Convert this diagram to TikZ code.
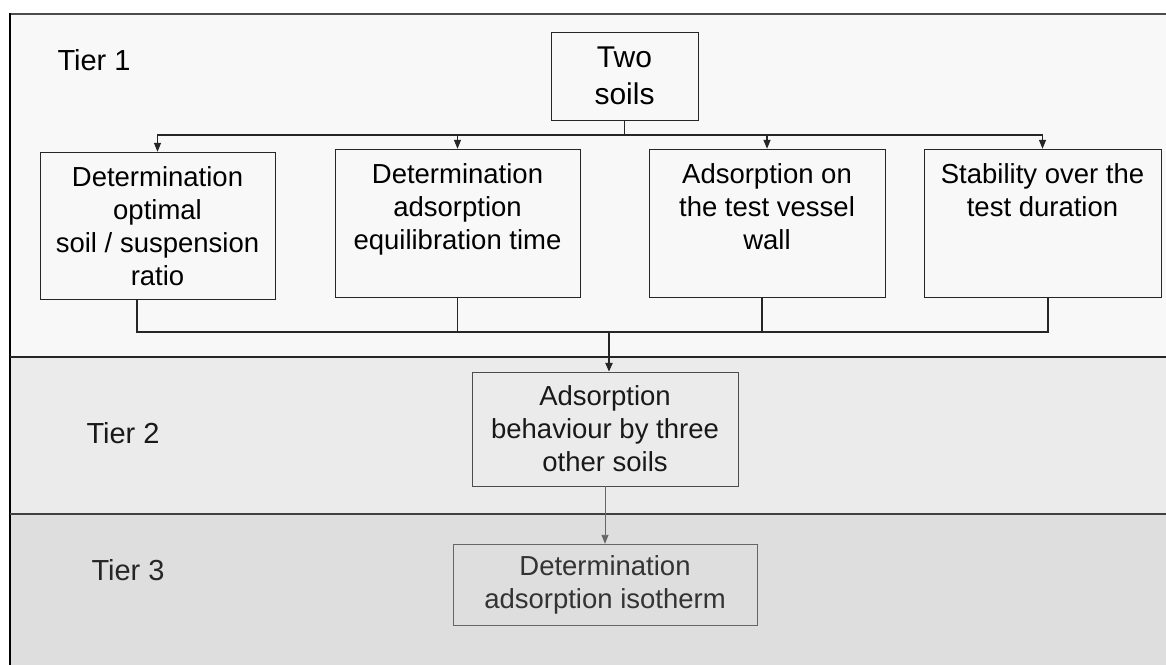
\documentclass[tikz,border=0pt]{standalone}
\usepackage{fontspec}
\setmainfont{Liberation Sans}
\usepackage{xcolor}
\usetikzlibrary{arrows.meta, positioning, calc}

\definecolor{tierone}{HTML}{F8F8F8}
\definecolor{tiertwo}{HTML}{EBEBEB}
\definecolor{tierthree}{HTML}{DEDEDE}

% text hung from the top of a fixed-size box
\newcommand{\toptext}[3]{\parbox[c][#2][t]{#1}{\centering\rule{0pt}{34pt}#3}}

\begin{document}
\begin{tikzpicture}[
    x=1pt, y=-1pt,
    box/.style={rectangle, draw=black!85, align=center, inner sep=0pt,
                font=\fontsize{27.5}{33}\selectfont},
    tierlabel/.style={anchor=base west, font=\fontsize{29}{35}\selectfont},
    link/.style={line width=1.3pt, draw=black!85},
    arrow/.style={-{Triangle[length=9pt, width=7pt]}, line width=1.3pt, draw=black!85}
]
\useasboundingbox (0,0) rectangle (1166,664);

% tier bands
\fill[tierone]   (10,14)  rectangle (1170,357);
\fill[tiertwo]   (10,357) rectangle (1170,514);
\fill[tierthree] (10,514) rectangle (1170,670);
\draw[line width=2pt, black!70] (10,14) -- (1170,14);
\draw[line width=2pt, black] (10,670) -- (10,13);
\draw[line width=2pt, black!85] (10,357) -- (1170,357);
\draw[line width=2pt, black!75] (10,514) -- (1170,514);

\node[tierlabel] (t1) at (54,70) {Tier 1};
\node[tierlabel, text=black!90] (t2) at (83,443) {Tier 2};
\node[tierlabel, text=black!85] (t3) at (88,580) {Tier 3};

% tier 1
\node[box, minimum width=147pt, minimum height=88pt, font=\fontsize{30}{37}\selectfont]
    (two) at (624.5,76) {Two\\soils};
\node[box] (ratio) at (157.5,225.5) {\toptext{235pt}{147pt}{Determination\\optimal\\soil / suspension\\ratio}};
\node[box] (equil) at (457.5,223)   {\toptext{245pt}{148pt}{Determination\\adsorption\\equilibration time}};
\node[box] (wall)  at (767,223)     {\toptext{236pt}{148pt}{Adsorption on\\the test vessel\\wall}};
\node[box] (stab)  at (1042.5,223)  {\toptext{237pt}{148pt}{Stability over the\\test duration}};

% tier 2 and 3
\node[box, draw=black!70, text=black!90, minimum width=266pt, minimum height=114pt]
    (beh) at (605,429) {Adsorption\\behaviour by three\\other soils};
\node[box, draw=black!60, text=black!80, minimum width=304pt, minimum height=81pt]
    (iso) at (605,584.5) {Determination\\adsorption isotherm};

\coordinate (split) at (624.5,135);
\coordinate (merge) at (609,332);

\draw[link]  (two.south) -- (split);
\draw[arrow] (split) -| (ratio.north);
\draw[arrow] (split) -| (equil.north);
\draw[arrow] (split) -| (wall.north);
\draw[arrow] (split) -| (stab.north);

\draw[link] ([xshift=-20.5pt]ratio.south) |- (merge);
\draw[link] (equil.south) |- (merge);
\draw[link] ([xshift=-5pt]wall.south) |- (merge);
\draw[link] ([xshift=5.5pt]stab.south) |- (merge);
\draw[arrow, line width=2.6pt] (merge) -- (merge |- beh.north);

\draw[arrow, line width=0.9pt, draw=black!60] (beh.south) -- (iso.north);
\end{tikzpicture}
\end{document}
